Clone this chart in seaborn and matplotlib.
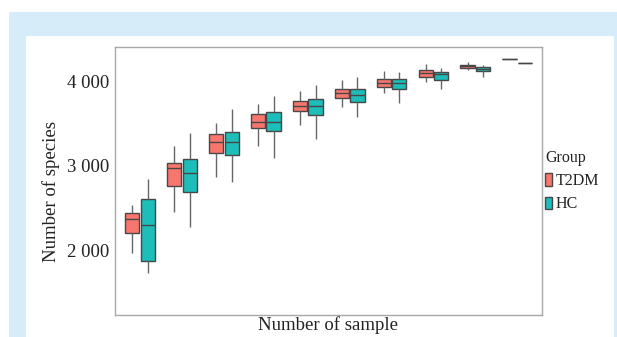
import numpy as np
import pandas as pd
import matplotlib
matplotlib.use("Agg")
import matplotlib.pyplot as plt
from matplotlib.patches import Rectangle
import seaborn as sns

# ---- data (five-number summaries) ----
categories = [str(i) for i in range(1, 11)]
groups = ["T2DM", "HC"]

t2dm_low  = [1962, 2456, 2868, 3240, 3489, 3703, 3869, 4000, 4139, 4265]
t2dm_q1   = [2207, 2761, 3157, 3446, 3648, 3803, 3941, 4059, 4163, 4265]
t2dm_med  = [2373, 2971, 3284, 3525, 3711, 3862, 3988, 4100, 4186, 4265]
t2dm_q3   = [2444, 3031, 3379, 3613, 3771, 3910, 4028, 4135, 4198, 4265]
t2dm_high = [2536, 3236, 3509, 3735, 3886, 4020, 4127, 4207, 4230, 4265]

hc_low    = [1724, 2278, 2812, 3090, 3323, 3584, 3751, 3910, 4056, 4226]
hc_q1     = [1871, 2690, 3133, 3415, 3601, 3762, 3910, 4016, 4124, 4226]
hc_med    = [2302, 2919, 3280, 3518, 3708, 3838, 3981, 4091, 4154, 4226]
hc_q3     = [2603, 3078, 3399, 3637, 3791, 3917, 4028, 4119, 4178, 4226]
hc_high   = [2841, 3387, 3676, 3834, 3957, 4052, 4112, 4159, 4198, 4226]

yticks = [2000, 3000, 4000]
ytick_labels = ["2 000", "3 000", "4 000"]
colors = {"T2DM": "#F8766D", "HC": "#1DBDB9"}

series = {
    "T2DM": [t2dm_low, t2dm_q1, t2dm_med, t2dm_q3, t2dm_high],
    "HC": [hc_low, hc_q1, hc_med, hc_q3, hc_high],
}
rows = []
for g in groups:
    for i, c in enumerate(categories):
        for stat in series[g]:
            rows.append({"n": c, "species": stat[i], "Group": g})
df = pd.DataFrame(rows)

# ---- style ----
sns.set_theme(style="white")
plt.rcParams["font.family"] = ["Liberation Serif", "DejaVu Serif"]

W, H = 617, 337
fig = plt.figure(figsize=(W / 100, H / 100), dpi=100)
fig.patch.set_facecolor("white")
# light-blue frame and inner white panel
fig.patches.append(Rectangle((9 / W, 0), 1 - 9 / W, (H - 12) / H,
                             transform=fig.transFigure, facecolor="#D6ECF9",
                             edgecolor="none", zorder=-10))
fig.patches.append(Rectangle((26 / W, 0), 588 / W, (H - 35.7) / H,
                             transform=fig.transFigure, facecolor="white",
                             edgecolor="none", zorder=-9))

ax = fig.add_axes([114.7 / W, 1 - 315 / H, 427 / W, 267.7 / H])
ax.set_facecolor("white")

sns.boxplot(data=df, x="n", y="species", hue="Group", order=categories,
            hue_order=groups, palette=colors, width=0.75, gap=0.1,
            whis=(0, 100), linecolor="#474747", linewidth=1.0,
            fliersize=0, saturation=1, showcaps=False,
            whiskerprops={"color": "#666666"}, ax=ax)

ax.set_xlim(-0.6, 9.58)
ax.set_ylim(1228, 4409)
ax.set_yticks(yticks)
ax.set_yticklabels(ytick_labels)
ax.tick_params(axis="y", length=3, width=0.8, color="#333333",
               labelsize=13.5, pad=1, labelcolor="#222222")
ax.tick_params(axis="x", length=0, labelbottom=False)

for s in ax.spines.values():
    s.set_visible(True)
    s.set_color("#A8A8A8")
    s.set_linewidth(1.0)

ax.set_xlabel("Number of sample", fontsize=13.5, labelpad=1, color="#222222")
ax.set_ylabel("Number of species", fontsize=13.5, color="#222222")
ax.yaxis.set_label_coords(-0.128, 0.46)

sns.move_legend(ax, "center left", bbox_to_anchor=(1.0, 0.5), frameon=False,
                title="Group", fontsize=11.5, title_fontsize=11.5,
                handlelength=0.45, handleheight=0.8, handletextpad=0.2,
                labelspacing=0.45, borderaxespad=0.1, borderpad=0.1)
leg = ax.get_legend()
leg._legend_box.align = "left"
for t in leg.get_texts():
    t.set_color("#222222")
leg.get_title().set_color("#222222")

fig.savefig("out.png", dpi=100)
